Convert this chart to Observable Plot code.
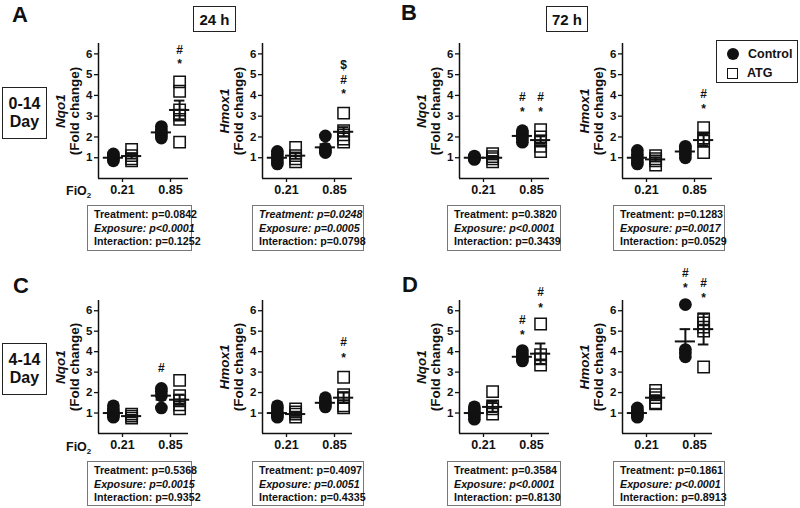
<!DOCTYPE html>
<html><head><meta charset="utf-8">
<script src="https://cdn.jsdelivr.net/npm/d3@7"></script>
<script src="https://cdn.jsdelivr.net/npm/@observablehq/plot@0.6"></script>
<style>
body{margin:0;background:#fff;}
#root{position:relative;width:800px;height:508px;background:#fff;font-family:"Liberation Sans",Arial,sans-serif;font-weight:bold;color:#111;overflow:hidden;}
.abs{position:absolute;white-space:nowrap;}
.hbox{position:absolute;border:1.5px solid #222;box-sizing:border-box;display:flex;flex-direction:column;align-items:center;justify-content:center;}
.stat{position:absolute;border:1.3px solid #777;box-sizing:border-box;font-size:10.7px;line-height:13.5px;padding:2px 0 0 6px;white-space:nowrap;}
.letter{position:absolute;font-size:22px;line-height:22px;}
</style></head><body><div id="root"></div>
<script>
// ---------- data ----------
const fio2Ticks = ["0.21", "0.85"];
const yTicks = [1, 2, 3, 4, 5, 6];
const treatments = ["Control", "ATG"];
const statLabels = ["Treatment", "Exposure", "Interaction"];
const genes = ["Nqo1", "Hmox1"];
const panelLetters = ["A", "B", "C", "D"];
const timeLabels = ["24 h", "72 h"];
const rowLabels = [["0-14", "Day"], ["4-14", "Day"]];
// group order: Control 0.21, ATG 0.21, Control 0.85, ATG 0.85
const groupFio2 = [0, 0, 1, 1];
const groupTreat = [0, 1, 0, 1];

const ptsA_Nqo1 = [[0.85,0.95,1.0,1.08,1.18],[0.85,0.95,1.1,1.4],[1.95,2.1,2.2,2.35,2.5],[1.75,2.85,3.05,3.3,4.2,4.65]];
const meanA_Nqo1 = [1.0,1.08,2.22,3.3];
const semA_Nqo1 = [0.05,0.12,0.1,0.45];
const sigA_Nqo1 = [[3,5.5,"*"],[3,6.2,"#"]];
const pA_Nqo1 = ["=0.0842","<0.0001","=0.1252"];

const ptsA_Hmox1 = [[0.7,0.85,1.0,1.15,1.3],[0.8,0.95,1.1,1.5],[1.25,1.35,1.45,2.05],[1.75,1.9,2.1,2.3,3.15]];
const meanA_Hmox1 = [1.0,1.1,1.5,2.25];
const semA_Hmox1 = [0.1,0.15,0.15,0.22];
const sigA_Hmox1 = [[3,4.05,"*"],[3,4.75,"#"],[3,5.45,"$"]];
const pA_Hmox1 = ["=0.0248","=0.0005","=0.0798"];

const ptsB_Nqo1 = [[0.92,0.97,1.0,1.03,1.08],[0.8,0.95,1.05,1.2],[1.75,1.9,2.05,2.2,2.3],[1.3,1.55,1.8,2.0,2.35]];
const meanB_Nqo1 = [1.0,1.0,2.05,1.85];
const semB_Nqo1 = [0.03,0.08,0.1,0.18];
const sigB_Nqo1 = [[2,3.2,"*"],[2,3.9,"#"],[3,3.2,"*"],[3,3.9,"#"]];
const pB_Nqo1 = ["=0.3820","<0.0001","=0.3439"];

const ptsB_Hmox1 = [[0.7,0.85,1.0,1.15,1.35],[0.65,0.85,0.95,1.1],[1.0,1.15,1.3,1.45,1.55],[1.25,1.8,1.95,2.45]];
const meanB_Hmox1 = [1.0,0.92,1.3,1.85];
const semB_Hmox1 = [0.11,0.1,0.1,0.25];
const sigB_Hmox1 = [[3,3.35,"*"],[3,4.05,"#"]];
const pB_Hmox1 = ["=0.1283","=0.0017","=0.0529"];

const ptsC_Nqo1 = [[0.8,0.9,1.0,1.15,1.35],[0.75,0.85,0.95],[1.25,1.85,2.05,2.2],[1.2,1.4,1.6,1.85,2.6]];
const meanC_Nqo1 = [1.0,0.85,1.85,1.65];
const semC_Nqo1 = [0.1,0.06,0.2,0.25];
const sigC_Nqo1 = [[2,3.2,"#"]];
const pC_Nqo1 = ["=0.5368","=0.0015","=0.9352"];

const ptsC_Hmox1 = [[0.8,0.9,1.0,1.2,1.35],[0.8,0.95,1.05,1.2],[1.3,1.4,1.5,1.6,1.75],[1.25,1.35,1.75,1.9,2.75]];
const meanC_Hmox1 = [1.0,0.95,1.5,1.75];
const semC_Hmox1 = [0.1,0.09,0.08,0.25];
const sigC_Hmox1 = [[3,3.7,"*"],[3,4.45,"#"]];
const pC_Hmox1 = ["=0.4097","=0.0051","=0.4335"];

const ptsD_Nqo1 = [[0.7,0.85,1.0,1.15,1.3],[0.95,1.2,1.35,2.05],[3.55,3.65,3.75,3.9,4.05],[3.35,3.65,3.85,5.35]];
const meanD_Nqo1 = [1.0,1.3,3.75,3.9];
const semD_Nqo1 = [0.1,0.25,0.1,0.5];
const sigD_Nqo1 = [[2,4.8,"*"],[2,5.55,"#"],[3,6.15,"*"],[3,6.9,"#"]];
const pD_Nqo1 = ["=0.3584","<0.0001","=0.8130"];

const ptsD_Hmox1 = [[0.8,0.9,1.0,1.1,1.25],[1.45,1.5,1.75,1.9,2.1],[3.75,3.95,4.1,6.3],[3.25,5.0,5.2,5.4,5.6]];
const meanD_Hmox1 = [1.0,1.75,4.5,5.1];
const semD_Hmox1 = [0.08,0.12,0.6,0.75];
const sigD_Hmox1 = [[2,7.1,"*"],[2,7.85,"#"],[3,6.6,"*"],[3,7.35,"#"]];
const pD_Hmox1 = ["=0.1861","<0.0001","=0.8913"];

// ---------- layout ----------
const root = document.getElementById("root");
const FONT = "Liberation Sans, Arial, sans-serif";
const axisX0 = [98, 262, 459, 622];          // screen x of each column's y-axis
const rowSvgTop = [36, 262];
const rowMarginTop = [7, 38];
const rowFrameBottom = [178, 433];
const statBox = [[87,105],[252,112],[447,114],[613,112]];
const statTop = [205, 461];
const xOff = [-0.19, 0.19];

function addDiv(cls, css, html) {
  const d = document.createElement("div");
  d.className = cls;
  Object.assign(d.style, css);
  d.innerHTML = html;
  root.appendChild(d);
  return d;
}

const panels = [
  [ptsA_Nqo1, meanA_Nqo1, semA_Nqo1, sigA_Nqo1, pA_Nqo1, 0, 0],
  [ptsA_Hmox1, meanA_Hmox1, semA_Hmox1, sigA_Hmox1, pA_Hmox1, 0, 1],
  [ptsB_Nqo1, meanB_Nqo1, semB_Nqo1, sigB_Nqo1, pB_Nqo1, 0, 2],
  [ptsB_Hmox1, meanB_Hmox1, semB_Hmox1, sigB_Hmox1, pB_Hmox1, 0, 3],
  [ptsC_Nqo1, meanC_Nqo1, semC_Nqo1, sigC_Nqo1, pC_Nqo1, 1, 0],
  [ptsC_Hmox1, meanC_Hmox1, semC_Hmox1, sigC_Hmox1, pC_Hmox1, 1, 1],
  [ptsD_Nqo1, meanD_Nqo1, semD_Nqo1, sigD_Nqo1, pD_Nqo1, 1, 2],
  [ptsD_Hmox1, meanD_Hmox1, semD_Hmox1, sigD_Hmox1, pD_Hmox1, 1, 3]
];

panels.forEach(([pts, means, sems, sig, pv, row, col]) => {
  const gene = genes[col % 2];
  const gx = g => groupFio2[g] + xOff[groupTreat[g]];
  const points = [];
  pts.forEach((arr, g) => arr.forEach(v => points.push({x: gx(g), y: v, t: groupTreat[g]})));
  const stats = means.map((m, g) => ({x: gx(g), mean: m, sem: sems[g]}));
  const sigRows = sig.map(([g, lvl, s]) => ({x: gx(g), y: lvl, s}));
  const mTop = rowMarginTop[row];
  const height = rowFrameBottom[row] - rowSvgTop[row] + 24;
  const svg = Plot.plot({
    width: 150, height,
    marginLeft: 50, marginRight: 10, marginTop: mTop, marginBottom: 24,
    x: {domain: [-0.5, 1.375]},
    y: {domain: [0, 6.5]},
    style: {background: "transparent", fontFamily: FONT, fontWeight: "bold", overflow: "visible", color: "#111"},
    marks: [
      Plot.ruleX([-0.5], {stroke: "#111", strokeWidth: 1.5}),
      Plot.ruleY([0], {stroke: "#111", strokeWidth: 1.5}),
      Plot.axisY({ticks: yTicks, tickFormat: d => String(d), tickSize: 4, tickPadding: 2, fontSize: 11.5, label: null, strokeWidth: 1.3}),
      Plot.axisX({ticks: [0,1], tickFormat: i => fio2Ticks[i], tickSize: 4, tickPadding: 3, fontSize: 12.5, label: null, strokeWidth: 1.3}),
      Plot.dot(points.filter(d => d.t === 0), {x: "x", y: "y", r: 6.4, fill: "#111", symbol: "circle"}),
      Plot.dot(points.filter(d => d.t === 1), {x: "x", y: "y", r: 6.4, symbol: "square", fill: "none", stroke: "#111", strokeWidth: 1.5}),
      Plot.ruleY(stats, {y: "mean", x1: d => d.x - 0.21, x2: d => d.x + 0.21, stroke: "#111", strokeWidth: 2}),
      Plot.ruleX(stats, {x: "x", y1: d => d.mean - d.sem, y2: d => d.mean + d.sem, stroke: "#111", strokeWidth: 2}),
      Plot.ruleY(stats, {y: d => d.mean + d.sem, x1: d => d.x - 0.11, x2: d => d.x + 0.11, stroke: "#111", strokeWidth: 2}),
      Plot.ruleY(stats, {y: d => d.mean - d.sem, x1: d => d.x - 0.11, x2: d => d.x + 0.11, stroke: "#111", strokeWidth: 2}),
      Plot.text(sigRows, {x: "x", y: "y", text: "s", fontSize: 12, fill: "#111"}),
      Plot.text([gene], {text: d => d, frameAnchor: "left", textAnchor: "middle", dx: -38, rotate: -90, fontStyle: "italic", fontSize: 13.5, fill: "#111"}),
      Plot.text(["(Fold change)"], {text: d => d, frameAnchor: "left", textAnchor: "middle", dx: -24, rotate: -90, fontSize: 13.5, fill: "#111"})
    ]
  });
  Object.assign(svg.style, {position: "absolute", left: (axisX0[col] - 50) + "px", top: rowSvgTop[row] + "px", maxWidth: "none"});
  root.appendChild(svg);

  // statistics box
  const [bx, bw] = statBox[col];
  const lines = statLabels.map((lab, i) => {
    const s = pv[i];
    const sig = parseFloat(s.slice(1)) < 0.05;
    const txt = lab + ": p" + s.replace("<", "&lt;");
    return `<div style="font-style:${sig ? "italic" : "normal"}">${txt}</div>`;
  }).join("");
  addDiv("stat", {left: bx + "px", top: statTop[row] + "px", width: bw + "px", height: (row === 0 ? 46 : 45) + "px"}, lines);
});

// FiO2 labels
[192, 448].forEach(y => addDiv("abs", {left: "66px", top: (y - 8) + "px", fontSize: "12.5px", lineHeight: "14px"}, 'FiO<sub style="font-size:8px;vertical-align:-3px">2</sub>'));

// panel letters
[[12,3.5],[401,2],[13,274.5],[402,274]].forEach(([x,y],i) => addDiv("letter", {left: x+"px", top: y+"px"}, panelLetters[i]));

// time headers
[[193,43],[546,42]].forEach(([x,w],i) => addDiv("hbox", {left: x+"px", top: "6px", width: w+"px", height: "26px", fontSize: "15px"}, timeLabels[i]));

// row labels
[87, 343].forEach((y,i) => addDiv("hbox", {left: "2px", top: y+"px", width: "45px", height: "52px", fontSize: "16px", lineHeight: "18px"}, rowLabels[i].map(t => `<div>${t}</div>`).join("")));

// legend
const leg = addDiv("abs", {left: "716px", top: "40px", width: "82px", height: "43px", border: "1.5px solid #222", boxSizing: "border-box", fontSize: "12.5px"}, "");
const shapes = [
  'width:12px;height:12px;border-radius:50%;background:#111;',
  'width:11px;height:11px;border:1.5px solid #111;background:#fff;box-sizing:border-box;'
];
treatments.forEach((t, i) => {
  const r = document.createElement("div");
  Object.assign(r.style, {position: "absolute", left: "10px", top: (6 + i * 19) + "px", height: "14px", display: "flex", alignItems: "center"});
  r.innerHTML = `<span style="display:inline-block;${shapes[i]}"></span><span style="margin-left:9px">${t}</span>`;
  leg.appendChild(r);
});
</script></body></html>
